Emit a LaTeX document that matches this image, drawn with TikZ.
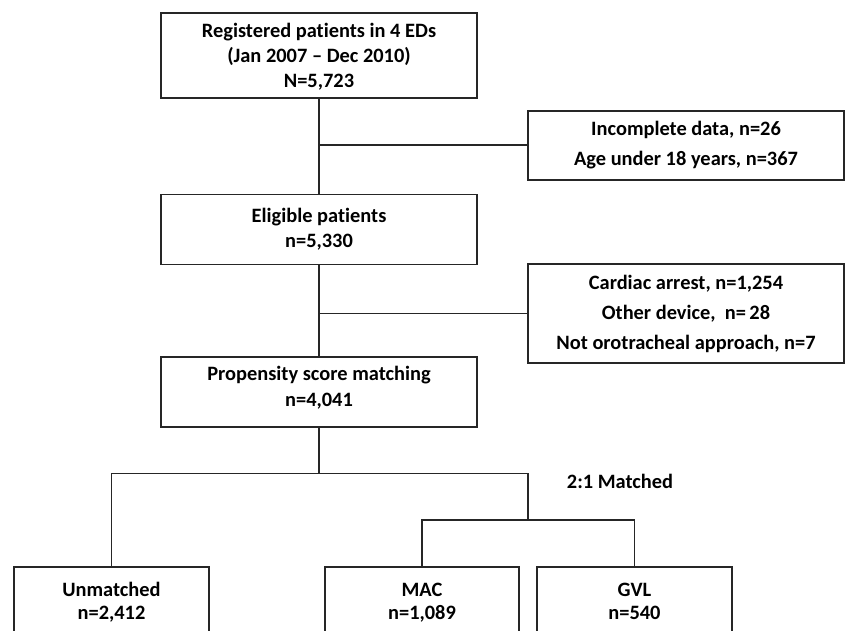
\documentclass[tikz,border=0pt]{standalone}
\usepackage{fontspec}
\setmainfont{Carlito}[Ligatures=NoCommon]
\begin{document}
\begin{tikzpicture}[x=0.75pt,y=-0.75pt,
  box/.style={draw=black!85, line width=1.4pt, align=center, inner sep=0pt,
    font=\bfseries\fontsize{15.3}{18.9}\selectfont},
  sidebox/.style={box, font=\bfseries\fontsize{15.3}{22.5}\selectfont},
  lowbox/.style={box, font=\bfseries\fontsize{15.3}{17.3}\selectfont},
  link/.style={draw=black!85, line width=1.4pt}]
\useasboundingbox (0,0) rectangle (849,631);
\clip (0,0) rectangle (849,631);
\fill[white] (0,0) rectangle (849,631);

\node[box, minimum width=316*0.75pt, minimum height=85*0.75pt, text depth=0pt] (b1) at (319,55.5)
  {Registered patients in 4 EDs\\(Jan 2007 -- Dec 2010)\\N=5,723};
\node[box, minimum width=316*0.75pt, minimum height=70*0.75pt] (b2) at (319,229.5)
  {Eligible patients\\n=5,330};
\node[box, minimum width=316*0.75pt, minimum height=70*0.75pt, text depth=8.5pt] (b3) at (319,392)
  {Propensity score matching\\n=4,041};
\node[sidebox, minimum width=316*0.75pt, minimum height=69*0.75pt] (s1) at (686,145.3)
  {Incomplete data, n=26\\Age under 18 years, n=367};
\node[sidebox, minimum width=316*0.75pt, minimum height=99*0.75pt] (s2) at (686,313.5)
  {Cardiac arrest, n=1,254\\Other device,\ \ n=\,28\\Not orotracheal approach, n=7};

\node[lowbox, minimum width=195*0.75pt, minimum height=73*0.75pt] (u) at (111.5,603.5)
  {\strut Unmatched\\\strut n=2,412};
\node[lowbox, minimum width=194*0.75pt, minimum height=73*0.75pt] (m) at (422,603.5)
  {\strut MAC\\\strut n=1,089};
\node[lowbox, minimum width=195*0.75pt, minimum height=73*0.75pt] (g) at (634.5,603.5)
  {\strut GVL\\\strut n=540};

\node[font=\bfseries\fontsize{15.3}{18}\selectfont] (lab) at (620,481) {2:1 Matched};

\coordinate (j1) at (319,473.5);
\coordinate (j2) at (528,473.5);
\coordinate (j3) at (528,520);

\draw[link] (b1.south) -- (b2.north);
\draw[link] (b2.south) -- (b3.north);
\draw[link] (s1.west -| b1.south) -- (s1.west);
\draw[link] (s2.west -| b2.south) -- (s2.west);
\draw[link] (b3.south) -- (j1);
\draw[link] (u.north) -- (u.north |- j1) -- (j2) -- (j3);
\draw[link] (m.north) -- (m.north |- j3) -- (g.north |- j3) -- (g.north);
\end{tikzpicture}
\end{document}
